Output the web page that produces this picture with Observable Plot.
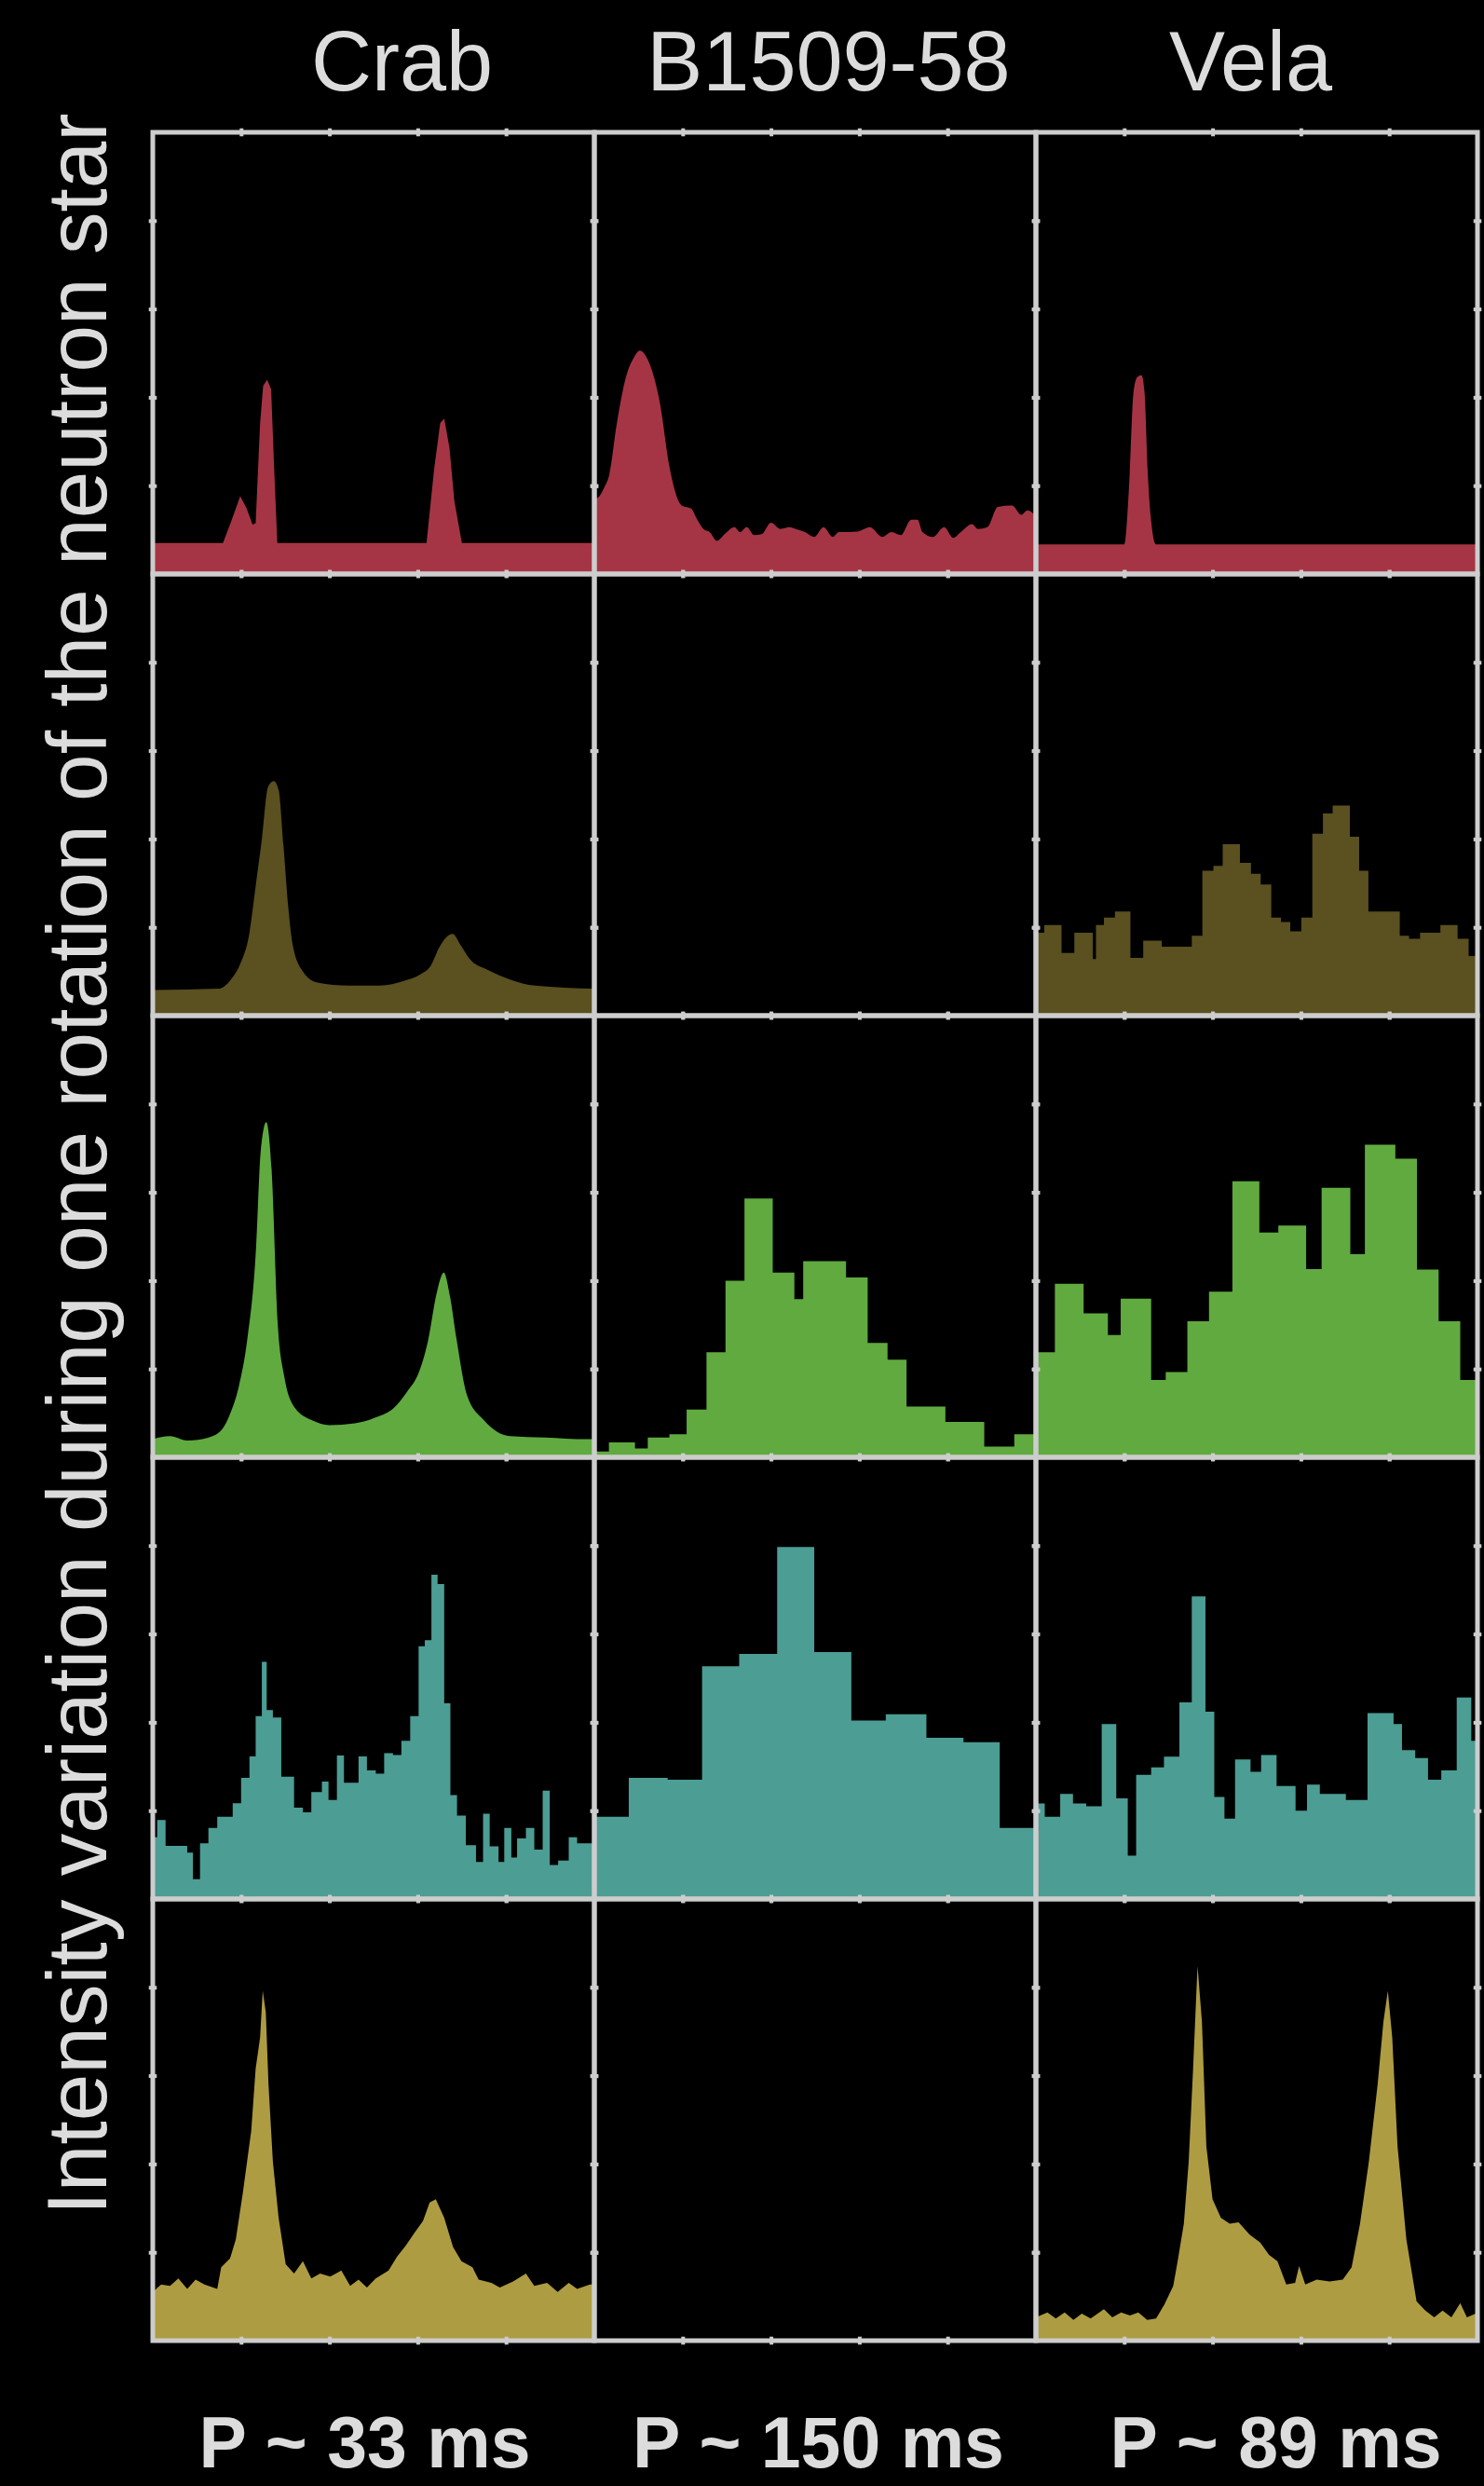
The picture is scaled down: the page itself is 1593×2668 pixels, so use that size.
<!DOCTYPE html>
<html>
<head>
<meta charset="utf-8">
<script src="https://cdn.jsdelivr.net/npm/d3@7"></script>
<script src="https://cdn.jsdelivr.net/npm/@observablehq/plot@0.6"></script>
<style>
  html, body { margin: 0; padding: 0; background: #000; }
  #chart svg { display: block; }
</style>
</head>
<body>
<div id="chart"></div>
<script>
// ---------- categories & labels ----------
const pulsars = ["Crab", "B1509-58", "Vela"];
const periods = ["P ~ 33 ms", "P ~ 150 ms", "P ~ 89 ms"];
const bands = ["Radio", "Optical", "Soft X-ray", "Hard X-ray", "Gamma-ray"];
const bandColors = ["#a53545", "#5a5020", "#60aa40", "#4c9d94", "#ae9c42"];
const yLabel = "Intensity variation during one rotation of the neutron star";
const xTicks = [0.2, 0.4, 0.6, 0.8];
const yTicks = [0.2, 0.4, 0.6, 0.8];

// ---------- pulse profiles: [phase, relative intensity] ----------
const crabRadio = [[0,0.07],[0.159,0.07],[0.178,0.12],[0.198,0.176],[0.212,0.15],[0.226,0.112],[0.233,0.115],[0.243,0.34],[0.25,0.426],[0.259,0.44],[0.268,0.418],[0.275,0.236],[0.282,0.07],[0.62,0.07],[0.637,0.236],[0.651,0.342],[0.66,0.352],[0.672,0.285],[0.683,0.165],[0.70,0.07],[1,0.07]];
const b1509Radio = [[0,0.172],[0.006,0.172],[0.023,0.197],[0.034,0.225],[0.051,0.341],[0.072,0.447],[0.089,0.489],[0.103,0.506],[0.121,0.485],[0.149,0.384],[0.170,0.243],[0.198,0.155],[0.219,0.148],[0.233,0.123],[0.247,0.102],[0.261,0.095],[0.278,0.075],[0.296,0.091],[0.317,0.106],[0.330,0.095],[0.345,0.106],[0.362,0.088],[0.379,0.090],[0.400,0.116],[0.421,0.102],[0.442,0.106],[0.456,0.102],[0.477,0.095],[0.498,0.084],[0.519,0.106],[0.540,0.084],[0.554,0.095],[0.575,0.095],[0.596,0.096],[0.624,0.106],[0.652,0.084],[0.673,0.095],[0.694,0.088],[0.718,0.123],[0.732,0.123],[0.743,0.095],[0.767,0.084],[0.792,0.106],[0.813,0.082],[0.830,0.095],[0.855,0.113],[0.869,0.102],[0.890,0.106],[0.914,0.152],[0.946,0.155],[0.967,0.134],[0.981,0.144],[1,0.130]];
const velaRadio = [[0,0.067],[0.2,0.067],[0.211,0.199],[0.221,0.411],[0.23,0.446],[0.239,0.45],[0.246,0.411],[0.253,0.236],[0.26,0.13],[0.272,0.067],[1,0.067]];

const crabOptical = [[0,0.058],[0.149,0.061],[0.177,0.082],[0.198,0.117],[0.219,0.188],[0.233,0.293],[0.247,0.399],[0.261,0.518],[0.274,0.531],[0.285,0.511],[0.296,0.385],[0.307,0.244],[0.317,0.160],[0.338,0.103],[0.373,0.075],[0.444,0.068],[0.514,0.068],[0.570,0.079],[0.605,0.093],[0.630,0.114],[0.648,0.153],[0.665,0.178],[0.679,0.185],[0.697,0.160],[0.718,0.128],[0.760,0.103],[0.809,0.082],[0.866,0.068],[1,0.061]];
const velaOptical = [[0,0.188],[0.019,0.205],[0.058,0.142],[0.087,0.188],[0.129,0.128],[0.136,0.205],[0.154,0.222],[0.179,0.236],[0.214,0.131],[0.243,0.170],[0.285,0.156],[0.353,0.181],[0.377,0.328],[0.402,0.339],[0.423,0.388],[0.462,0.346],[0.487,0.321],[0.509,0.297],[0.533,0.222],[0.555,0.212],[0.576,0.191],[0.601,0.222],[0.626,0.412],[0.650,0.458],[0.672,0.476],[0.711,0.405],[0.732,0.328],[0.753,0.236],[0.824,0.181],[0.845,0.174],[0.870,0.188],[0.916,0.205],[0.955,0.174],[0.980,0.135],[1,0.135]];

const crabSoftX = [[0,0.041],[0.039,0.048],[0.078,0.038],[0.127,0.045],[0.156,0.062],[0.175,0.098],[0.195,0.161],[0.214,0.267],[0.234,0.477],[0.244,0.688],[0.257,0.759],[0.269,0.653],[0.283,0.302],[0.298,0.182],[0.322,0.112],[0.361,0.084],[0.400,0.073],[0.458,0.077],[0.507,0.091],[0.546,0.112],[0.575,0.147],[0.604,0.196],[0.624,0.267],[0.643,0.372],[0.659,0.418],[0.673,0.365],[0.688,0.267],[0.712,0.140],[0.750,0.084],[0.809,0.048],[0.887,0.045],[0.984,0.041],[1,0.041]];
const b1509SoftX = [[0,0.013],[0.033,0.034],[0.092,0.020],[0.121,0.045],[0.170,0.052],[0.209,0.108],[0.254,0.238],[0.297,0.400],[0.340,0.586],[0.404,0.418],[0.453,0.358],[0.473,0.444],[0.570,0.407],[0.619,0.259],[0.664,0.221],[0.707,0.115],[0.795,0.080],[0.883,0.024],[0.951,0.052],[1,0.052]];
const velaSoftX = [[0,0.238],[0.043,0.393],[0.108,0.326],[0.163,0.277],[0.192,0.359],[0.261,0.175],[0.294,0.193],[0.343,0.308],[0.392,0.375],[0.445,0.625],[0.506,0.509],[0.549,0.525],[0.612,0.426],[0.647,0.610],[0.712,0.460],[0.745,0.708],[0.814,0.676],[0.863,0.425],[0.912,0.308],[0.961,0.175],[1,0.175]];

const crabHardX = [[0,0.140],[0.010,0.179],[0.029,0.120],[0.078,0.105],[0.091,0.045],[0.107,0.126],[0.126,0.161],[0.146,0.186],[0.181,0.217],[0.200,0.274],[0.219,0.323],[0.233,0.414],[0.247,0.537],[0.258,0.428],[0.272,0.411],[0.291,0.277],[0.320,0.207],[0.340,0.196],[0.359,0.242],[0.383,0.266],[0.398,0.224],[0.417,0.325],[0.433,0.263],[0.466,0.323],[0.485,0.291],[0.505,0.284],[0.524,0.330],[0.544,0.326],[0.563,0.358],[0.583,0.414],[0.602,0.572],[0.616,0.586],[0.631,0.734],[0.645,0.713],[0.660,0.443],[0.674,0.235],[0.689,0.189],[0.709,0.122],[0.732,0.084],[0.748,0.193],[0.763,0.119],[0.783,0.084],[0.796,0.161],[0.812,0.094],[0.825,0.137],[0.845,0.161],[0.864,0.112],[0.883,0.245],[0.899,0.077],[0.918,0.087],[0.942,0.140],[0.961,0.126],[1,0.126]];
const b1509HardX = [[0,0.186],[0.078,0.274],[0.166,0.270],[0.244,0.527],[0.328,0.555],[0.414,0.797],[0.498,0.559],[0.582,0.404],[0.660,0.418],[0.752,0.365],[0.836,0.355],[0.918,0.161],[1,0.161]];
const velaHardX = [[0,0.216],[0.020,0.186],[0.055,0.238],[0.084,0.216],[0.114,0.210],[0.149,0.396],[0.182,0.228],[0.208,0.098],[0.227,0.281],[0.261,0.298],[0.290,0.322],[0.325,0.445],[0.353,0.685],[0.384,0.424],[0.404,0.231],[0.427,0.182],[0.451,0.316],[0.486,0.288],[0.510,0.326],[0.545,0.256],[0.588,0.200],[0.614,0.259],[0.643,0.238],[0.702,0.224],[0.751,0.421],[0.810,0.396],[0.829,0.337],[0.859,0.319],[0.888,0.270],[0.918,0.291],[0.953,0.456],[0.986,0.358],[1,0.358]];

const crabGamma = [[0,0.110],[0.019,0.127],[0.039,0.124],[0.058,0.141],[0.078,0.117],[0.097,0.138],[0.117,0.127],[0.146,0.117],[0.155,0.166],[0.175,0.186],[0.188,0.229],[0.204,0.335],[0.223,0.475],[0.233,0.616],[0.243,0.686],[0.249,0.792],[0.256,0.743],[0.262,0.581],[0.272,0.405],[0.285,0.278],[0.301,0.173],[0.320,0.152],[0.340,0.180],[0.359,0.141],[0.379,0.152],[0.402,0.145],[0.427,0.159],[0.447,0.124],[0.466,0.138],[0.485,0.120],[0.505,0.141],[0.534,0.159],[0.553,0.190],[0.573,0.215],[0.592,0.243],[0.612,0.271],[0.627,0.313],[0.641,0.320],[0.660,0.278],[0.680,0.212],[0.699,0.180],[0.724,0.166],[0.738,0.138],[0.767,0.131],[0.786,0.120],[0.816,0.134],[0.845,0.152],[0.864,0.124],[0.893,0.131],[0.917,0.110],[0.942,0.131],[0.961,0.117],[0.990,0.127],[1,0.127]];
const velaGamma = [[0,0.053],[0.026,0.064],[0.045,0.050],[0.065,0.064],[0.085,0.047],[0.104,0.061],[0.124,0.050],[0.154,0.071],[0.173,0.053],[0.193,0.064],[0.213,0.057],[0.232,0.064],[0.252,0.047],[0.272,0.050],[0.291,0.082],[0.311,0.124],[0.321,0.180],[0.335,0.265],[0.346,0.405],[0.356,0.616],[0.366,0.848],[0.376,0.722],[0.386,0.440],[0.400,0.320],[0.419,0.278],[0.439,0.265],[0.459,0.268],[0.484,0.240],[0.508,0.222],[0.528,0.194],[0.547,0.180],[0.567,0.127],[0.587,0.131],[0.596,0.169],[0.610,0.127],[0.636,0.138],[0.665,0.134],[0.695,0.138],[0.715,0.166],[0.734,0.265],[0.754,0.405],[0.774,0.581],[0.787,0.722],[0.797,0.792],[0.807,0.686],[0.819,0.440],[0.839,0.229],[0.862,0.089],[0.882,0.068],[0.902,0.053],[0.921,0.068],[0.941,0.053],[0.961,0.085],[0.976,0.053],[0.996,0.061],[1,0.061]];

// ---------- table of panels ----------
const profiles = [
  {pulsar: "Crab",     band: "Radio",      curve: "linear",     points: crabRadio},
  {pulsar: "B1509-58", band: "Radio",      curve: "monotone-x", points: b1509Radio},
  {pulsar: "Vela",     band: "Radio",      curve: "monotone-x", points: velaRadio},
  {pulsar: "Crab",     band: "Optical",    curve: "monotone-x", points: crabOptical},
  {pulsar: "Vela",     band: "Optical",    curve: "step-after", points: velaOptical},
  {pulsar: "Crab",     band: "Soft X-ray", curve: "monotone-x", points: crabSoftX},
  {pulsar: "B1509-58", band: "Soft X-ray", curve: "step-after", points: b1509SoftX},
  {pulsar: "Vela",     band: "Soft X-ray", curve: "step-after", points: velaSoftX},
  {pulsar: "Crab",     band: "Hard X-ray", curve: "step-after", points: crabHardX},
  {pulsar: "B1509-58", band: "Hard X-ray", curve: "step-after", points: b1509HardX},
  {pulsar: "Vela",     band: "Hard X-ray", curve: "step-after", points: velaHardX},
  {pulsar: "Crab",     band: "Gamma-ray",  curve: "linear",     points: crabGamma},
  {pulsar: "Vela",     band: "Gamma-ray",  curve: "linear",     points: velaGamma}
];

const cells = pulsars.flatMap(p => bands.map(b => ({pulsar: p, band: b})));
const colorOf = b => bandColors[bands.indexOf(b)];

const gridColor = "#cdcdcd";
const textColor = "#dcdcdc";
const font = "'Liberation Sans', Arial, Helvetica, sans-serif";

const areaMarks = profiles.map(p => Plot.areaY(p.points, {
  x: d => d[0], y: d => d[1],
  fx: () => p.pulsar, fy: () => p.band,
  fill: colorOf(p.band), curve: p.curve
}));

const titleOffsets = [30, 14, -7];
const periodOffsets = [-10, 3, 20];

const titleMarks = pulsars.map((name, i) => Plot.text([name], {
  text: d => d, fx: () => name, fy: () => bands[0],
  frameAnchor: "top", lineAnchor: "bottom", dy: -46, dx: titleOffsets[i],
  fontSize: 90, fill: textColor, fontFamily: font
}));

const periodMarks = pulsars.map((name, i) => Plot.text([periods[i]], {
  text: d => d, fx: () => name, fy: () => bands[4],
  frameAnchor: "bottom", lineAnchor: "bottom", dy: 135, dx: periodOffsets[i],
  fontSize: 77, fontWeight: "bold", fill: textColor, fontFamily: font
}));

const yLabelMark = Plot.text([yLabel], {
  text: d => d, fx: () => "Crab", fy: () => bands[4],
  frameAnchor: "bottom-left", textAnchor: "start", lineAnchor: "bottom",
  rotate: -90, dx: -51, dy: -135,
  fontSize: 91, fill: textColor, fontFamily: font
});

const chart = Plot.plot({
  width: 1593,
  height: 2668,
  marginLeft: 163,
  marginRight: 7,
  marginTop: 142,
  marginBottom: 156,
  style: {background: "#000", color: textColor, fontFamily: font},
  x: {domain: [0, 1], axis: null},
  y: {domain: [0, 1], axis: null},
  fx: {domain: pulsars, padding: 0, axis: null},
  fy: {domain: bands, padding: 0, axis: null},
  marks: [
    ...areaMarks,
    Plot.rect(cells, {fx: "pulsar", fy: "band", fill: "none", stroke: gridColor, strokeWidth: 5}),
    Plot.ruleX(xTicks, {x: d => d, y1: -0.009, y2: 0.009, stroke: gridColor, strokeWidth: 4}),
    Plot.ruleX(xTicks, {x: d => d, y1: 0.991, y2: 1.009, stroke: gridColor, strokeWidth: 4}),
    Plot.ruleY(yTicks, {y: d => d, x1: -0.009, x2: 0.009, stroke: gridColor, strokeWidth: 4}),
    Plot.ruleY(yTicks, {y: d => d, x1: 0.991, x2: 1.009, stroke: gridColor, strokeWidth: 4}),
    ...titleMarks,
    ...periodMarks,
    yLabelMark
  ]
});

document.getElementById("chart").appendChild(chart);
</script>
</body>
</html>
